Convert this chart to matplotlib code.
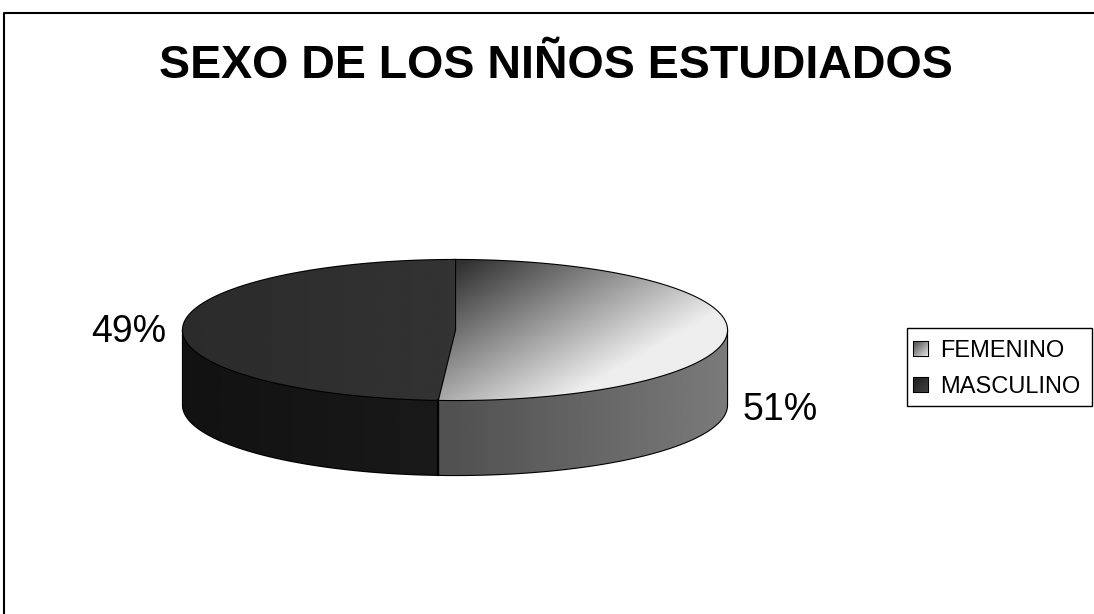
import numpy as np
import matplotlib
matplotlib.use('Agg')
import matplotlib.pyplot as plt
from matplotlib.patches import Polygon, Rectangle
from matplotlib.lines import Line2D

plt.rcParams['font.family'] = ['Liberation Sans', 'DejaVu Sans']

title = 'SEXO DE LOS NIÑOS ESTUDIADOS'
labels = ['FEMENINO', 'MASCULINO']
values = [51, 49]

W, H = 1094, 614
fig = plt.figure(figsize=(W / 100, H / 100), dpi=100)
ax = fig.add_axes([0, 0, 1, 1])
ax.set_xlim(0, W)
ax.set_ylim(H, 0)
ax.axis('off')

# pie geometry (pixels)
cx, cy, a, b, depth = 455, 330, 272, 70, 75


def pt(theta, dy=0):
    t = np.radians(theta)
    return np.column_stack([cx + a * np.cos(t), cy - b * np.sin(t) + dy])


def gradient_fill(poly, p0, p1, g0, g1):
    # linear grey gradient from p0 (level g0) to p1 (level g1), clipped to poly
    xy = poly.get_xy()
    x0, y0 = xy.min(axis=0)
    x1, y1 = xy.max(axis=0)
    xs = np.linspace(x0, x1, 200)
    ys = np.linspace(y0, y1, 200)
    X, Y = np.meshgrid(xs, ys)
    d = np.array(p1, float) - np.array(p0, float)
    t = ((X - p0[0]) * d[0] + (Y - p0[1]) * d[1]) / (d @ d)
    img = g0 + (g1 - g0) * np.clip(t, 0, 1)
    im = ax.imshow(img, cmap='gray', vmin=0, vmax=1, extent=(x0, x1, y0, y1),
                   origin='lower', interpolation='bilinear', zorder=poly.get_zorder())
    im.set_clip_path(poly)
    ax.set_xlim(0, W)
    ax.set_ylim(H, 0)


total = sum(values)
start = 90.0
spans = []
for v in values:
    end = start - 360.0 * v / total
    spans.append((start, end))
    start = end

split = spans[0][1]  # boundary at the front

# side walls (front half only)
side_specs = [
    ((split, 0.0), (cx, cy), (cx + a, cy), 0.32, 0.48),      # femenino
    ((-180.0, split), (cx - a, cy), (cx, cy), 0.07, 0.10),   # masculino
]
for (t0, t1), p0, p1, g0, g1 in side_specs:
    th = np.linspace(t0, t1, 120)
    top = pt(th)
    bot = pt(th[::-1], depth)
    poly = Polygon(np.vstack([top, bot]), closed=True, facecolor='none',
                   edgecolor='black', lw=1.6, zorder=2)
    ax.add_patch(poly)
    gradient_fill(poly, p0, p1, g0, g1)

# top faces
top_specs = [
    ((cx + 5, cy - 68), (cx + 90, cy + 80), 0.19, 0.93),
    ((cx - a, cy), (cx, cy), 0.17, 0.20),
]
for (t0, t1), (p0, p1, g0, g1) in zip(spans, top_specs):
    th = np.linspace(t0, t1, 200)
    xy = np.vstack([[cx, cy], pt(th)])
    poly = Polygon(xy, closed=True, facecolor='none', edgecolor='black', lw=1.6, zorder=3)
    ax.add_patch(poly)
    gradient_fill(poly, p0, p1, g0, g1)

# vertical edge at the split
e = pt(np.array([split]))[0]
ax.plot([e[0], e[0]], [e[1], e[1] + depth], color='black', lw=1.6, zorder=4)

# percentage labels
pcts = [f'{round(100 * v / total)}%' for v in values]
ax.text(743, 420, pcts[0], fontsize=27, ha='left', va='baseline', zorder=5)
ax.text(166, 342, pcts[1], fontsize=27, ha='right', va='baseline', zorder=5)

# title
ax.text(556, 78, title, fontsize=33.5, fontweight='bold', ha='center', va='baseline')

# legend
ax.add_patch(Rectangle((907, 328), 185, 78, facecolor='white', edgecolor='black', lw=1, zorder=5))
leg_levels = [(0.3, 0.9), (0.12, 0.25)]
for i, (lab, (g0, g1)) in enumerate(zip(labels, leg_levels)):
    yb = 357 + 36 * i
    sq_xy = [[914, yb - 15], [928, yb - 15], [928, yb - 1], [914, yb - 1]]
    sq = Polygon(sq_xy, closed=True, facecolor='none', edgecolor='black', lw=1.5, zorder=6)
    ax.add_patch(sq)
    gradient_fill(sq, sq_xy[0], sq_xy[2], g0, g1)
    ax.text(940, yb, lab, fontsize=17, ha='left', va='baseline', zorder=6)

# outer frame (left and top edges)
ax.add_line(Line2D([4, 4, 1093], [H, 13, 13], color='black', lw=1.5))

fig.savefig('out.png', dpi=100)
